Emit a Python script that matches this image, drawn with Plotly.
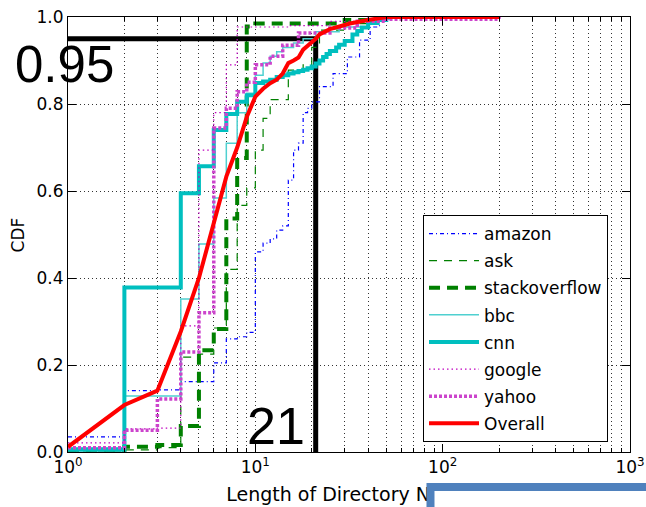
import math
import plotly.graph_objects as go

# Cumulative distribution of directory-name lengths per site (step CDFs)
amazon_x = [1, 2, 3, 4, 6, 7, 8, 9, 10, 11, 12, 13, 14, 15, 16, 17, 18, 19, 20, 22, 26, 31, 36, 41, 46, 50]
amazon_y = [0.035, 0.141, 0.143, 0.162, 0.205, 0.26, 0.265, 0.275, 0.46, 0.48, 0.49, 0.51, 0.52, 0.625,
            0.694, 0.71, 0.78, 0.79, 0.805, 0.84, 0.87, 0.908, 0.947, 0.977, 0.993, 1.0]

ask_x = [1, 2, 3, 4, 5, 6, 7, 8, 9, 10, 11, 12, 15, 18, 20, 22, 30, 40]
ask_y = [0.0, 0.005, 0.01, 0.218, 0.225, 0.285, 0.42, 0.567, 0.607, 0.694, 0.767, 0.81, 0.878, 0.89,
         0.93, 0.97, 0.985, 1.0]

stackoverflow_x = [1, 2, 3, 4, 5, 6, 7, 8, 9, 10, 30, 40]
stackoverflow_y = [0.005, 0.012, 0.016, 0.06, 0.234, 0.283, 0.537, 0.676, 0.978, 0.985, 0.993, 1.0]

bbc_x = [1, 2, 3, 4, 5, 6, 7, 8, 9, 10, 11, 12, 13, 14, 16, 18, 21, 28, 40, 50]
bbc_y = [0.01, 0.129, 0.129, 0.352, 0.478, 0.584, 0.71, 0.78, 0.825, 0.866, 0.894, 0.91, 0.92, 0.93,
         0.94, 0.95, 0.966, 0.977, 0.993, 1.0]

cnn_x = [1, 2, 3, 4, 5, 6, 7, 8, 9, 10, 11, 12, 13, 14, 15, 16, 17, 18, 19, 20, 21, 22, 23, 24, 25,
         27, 28, 30, 33, 35, 37, 40, 45, 50, 52]
cnn_y = [0.005, 0.378, 0.378, 0.595, 0.657, 0.74, 0.777, 0.805, 0.82, 0.848, 0.852, 0.856, 0.862, 0.866,
         0.87, 0.873, 0.876, 0.879, 0.882, 0.886, 0.893, 0.90, 0.908, 0.915, 0.922, 0.93, 0.936, 0.945,
         0.96, 0.968, 0.976, 0.986, 0.993, 0.998, 1.0]

google_x = [1, 2, 3, 4, 5, 6, 7, 8, 15, 25, 40]
google_y = [0.021, 0.053, 0.055, 0.29, 0.694, 0.78, 0.89, 0.977, 0.98, 0.99, 1.0]

yahoo_x = [1, 2, 3, 4, 5, 6, 7, 8, 9, 10, 12, 14, 17, 25, 35, 50, 200]
yahoo_y = [0.01, 0.05, 0.122, 0.23, 0.32, 0.745, 0.79, 0.828, 0.85, 0.89, 0.91, 0.935, 0.963, 0.975,
           0.99, 0.995, 1.0]

overall_x = [1, 2, 3, 4, 5, 6, 7, 8, 9, 10, 11, 12, 13, 14, 15, 16, 17, 18, 19, 20, 21, 22, 25, 28,
             32, 40, 48, 50, 200]
overall_y = [0.012, 0.108, 0.141, 0.277, 0.40, 0.53, 0.633, 0.70, 0.77, 0.817, 0.835, 0.848, 0.856,
             0.87, 0.894, 0.90, 0.907, 0.925, 0.935, 0.942, 0.95, 0.96, 0.972, 0.978, 0.985, 0.993,
             0.997, 1.0, 1.0]

# Marked percentile
mark_cdf = 0.95
mark_len = 21

x_tickvals = [1, 10, 100, 1000]
x_ticktext = ["10<sup>0</sup>", "10<sup>1</sup>", "10<sup>2</sup>", "10<sup>3</sup>"]
x_minor = [m * 10 ** d for d in range(3) for m in range(2, 10)]
y_tickvals = [0.0, 0.2, 0.4, 0.6, 0.8, 1.0]

FONT = "DejaVu Sans"
BIG_FONT = "Liberation Sans"
BLUE = "#0000ff"
GREEN = "#008000"
CYAN = "#00bfbf"
MAGENTA = "#bf00bf"
GRID = "#333333"

fig = go.Figure()

# percentile marker lines
fig.add_trace(go.Scatter(x=[1, mark_len, mark_len], y=[mark_cdf, mark_cdf, 0], mode="lines",
                         line=dict(color="black", width=5), showlegend=False, hoverinfo="skip"))

series = [
    ("amazon", amazon_x, amazon_y, dict(color=BLUE, width=1.2, dash="4px,3px,1px,3px"), "hv"),
    ("ask", ask_x, ask_y, dict(color=GREEN, width=1.2, dash="8px,7px"), "hv"),
    ("stackoverflow", stackoverflow_x, stackoverflow_y, dict(color=GREEN, width=4, dash="11px,7px"), "hv"),
    ("bbc", bbc_x, bbc_y, dict(color="#4fd0d0", width=1.5), "hv"),
    ("cnn", cnn_x, cnn_y, dict(color=CYAN, width=4), "hv"),
    ("google", google_x, google_y, dict(color=MAGENTA, width=1.2, dash="1.5px,3px"), "hv"),
    ("yahoo", yahoo_x, yahoo_y, dict(color="#cc44cc", width=3.5, dash="3px,2px"), "hv"),
    ("Overall", overall_x, overall_y, dict(color="#ff0000", width=4), "linear"),
]
for i, (name, xs, ys, ln, shape) in enumerate(series):
    ln = dict(ln)
    ln["shape"] = shape
    fig.add_trace(go.Scatter(x=xs, y=ys, mode="lines", name=name, line=ln, legendgroup=f"g{i}"))

axis_common = dict(
    showline=True, linecolor="black", linewidth=1, mirror="ticks",
    ticks="inside", ticklen=8, tickwidth=1, tickcolor="black", automargin=False,
    showgrid=True, gridcolor=GRID, gridwidth=1, griddash="1px,3px",
    zeroline=False, tickfont=dict(family=FONT, size=17, color="black"),
)

fig.update_xaxes(type="log", range=[0, 3], tickvals=x_tickvals, ticktext=x_ticktext,
                 minor=dict(tickvals=x_minor, ticks="inside", ticklen=4, tickcolor="black",
                            showgrid=True, gridcolor=GRID, griddash="1px,3px", gridwidth=1),
                 **axis_common)
fig.update_yaxes(range=[0, 1], tickvals=y_tickvals, ticktext=[f"{v:.1f}" for v in y_tickvals],
                 **axis_common)

annotations = [
    dict(text="CDF", xref="paper", yref="paper", x=-0.089, y=0.5, textangle=-90,
         xanchor="center", yanchor="middle", showarrow=False,
         font=dict(family=FONT, size=17, color="black")),
    dict(text=f"{mark_cdf:.2f}", xref="paper", yref="y", x=-0.007, y=mark_cdf,
         xanchor="center", yanchor="top", yshift=5, showarrow=False,
         font=dict(family=BIG_FONT, size=51, color="black")),
    dict(text=f"{mark_len}", xref="x", yref="y", x=math.log10(mark_len), y=0,
         xanchor="right", yanchor="bottom", xshift=-9, yshift=-5, showarrow=False,
         font=dict(family=BIG_FONT, size=52, color="black")),
]

shapes = [
    # x-axis title carried as a shape label so the framed panel can sit over it
    dict(type="rect", xref="paper", yref="paper", x0=0.2, x1=0.8, y0=-0.124, y1=-0.064,
         line=dict(width=0), fillcolor="rgba(0,0,0,0)", layer="above",
         label=dict(text="Length of Directory Name", textposition="middle center",
                    font=dict(family=FONT, size=19, color="black"))),
    # framed panel overlapping the lower right corner
    dict(type="rect", xref="paper", yref="paper", x0=0.645, x1=1.2, y0=-0.3, y1=-0.0805,
         line=dict(color="#4f81bd", width=8), fillcolor="white", layer="above"),
]

fig.update_layout(
    width=646, height=507,
    margin=dict(l=68, r=16, t=17, b=55, autoexpand=False),
    paper_bgcolor="white", plot_bgcolor="white",
    font=dict(family=FONT, size=17, color="black"),
    showlegend=True,
    legend=dict(x=0.6317, y=0.5448, xanchor="left", yanchor="top",
                bordercolor="black", borderwidth=1, bgcolor="white",
                font=dict(family=FONT, size=17, color="black"),
                traceorder="grouped", tracegroupgap=2, itemwidth=50),
    annotations=annotations,
    shapes=shapes,
)

fig.write_html("out.html")
